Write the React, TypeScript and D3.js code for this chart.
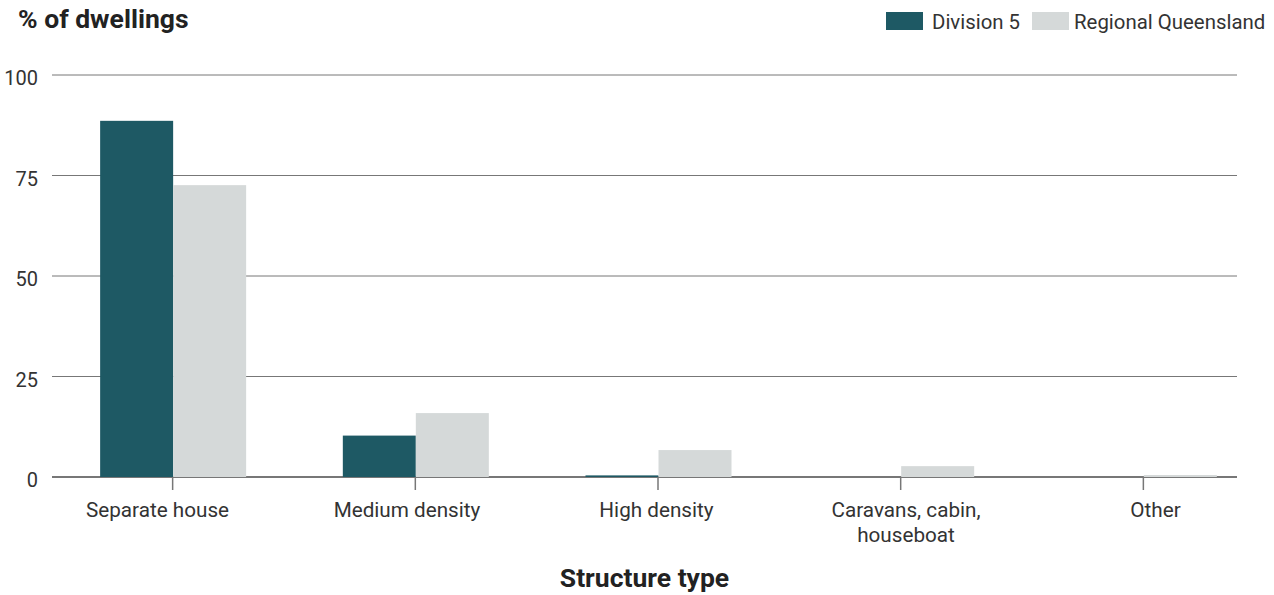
import React from "react";
import * as d3 from "d3";

const categories = ["Separate house", "Medium density", "High density", "Caravans, cabin, houseboat", "Other"];
const categoryLines = [["Separate house"], ["Medium density"], ["High density"], ["Caravans, cabin,", "houseboat"], ["Other"]];
const seriesNames = ["Division 5", "Regional Queensland"];
const division5 = [88.6, 10.3, 0.4, 0, 0];
const regionalQld = [72.6, 15.9, 6.7, 2.7, 0.5];
const yTicks = [0, 25, 50, 75, 100];
const colors = ["#1e5964", "#d5d9d9"];

const W = 1274, H = 595;
const FONT = "Roboto, 'Noto Sans', sans-serif";

export default function App() {
  const y = d3.scaleLinear().domain([0, 100]).range([477, 75]);
  const x = d3.scaleBand<string>().domain(categories).range([51.8, 1265.2]).padding(0);
  // label positions are laid out on a slightly wider band in the reference
  const xl = d3.scaleBand<string>().domain(categories).range([32.75, 1280.25]).padding(0);
  const sub = d3.scaleBand<string>().domain(seriesNames).range([0, 146]).padding(0);
  const gridL = 52, gridR = 1237;
  const data = [division5, regionalQld];
  return (
    <svg width={W} height={H} style={{ position: "absolute", left: 0, top: 0, background: "#fff" }} fontFamily={FONT}>
      <text x={18} y={28} fontSize={26.5} fontWeight={700} fill="#222">% of dwellings</text>
      {/* legend */}
      <rect x={886} y={12} width={37} height={18} fill={colors[0]} />
      <text x={932} y={29} fontSize={20.4} fill="#333">Division 5</text>
      <rect x={1032} y={12} width={37} height={18} fill={colors[1]} />
      <text x={1074} y={29} fontSize={20.4} fill="#333">Regional Queensland</text>
      {yTicks.map((t) => (
        <g key={t}>
          <line x1={gridL} x2={gridR} y1={y(t)} y2={y(t)} stroke="#777" strokeWidth={t === 0 ? 2 : 1} />
          <text x={38} y={y(t) + 10} fontSize={20} textAnchor="end" fill="#333">{t}</text>
        </g>
      ))}
      {categories.map((c, i) => {
        const cx = x(c)! + x.bandwidth() / 2;
        const lx = xl(c)! + xl.bandwidth() / 2;
        return (
          <g key={c}>
            {seriesNames.map((s, j) => {
              const v = data[j][i];
              if (v <= 0) return null;
              const x0 = cx - 73 + sub(s)!;
              return <rect key={s} x={x0} y={y(v)} width={sub.bandwidth()} height={y(0) - y(v)} fill={colors[j]} />;
            })}
            <line x1={cx - 0.5} x2={cx - 0.5} y1={477} y2={490} stroke="#777" strokeWidth={1.5} />
            {categoryLines[i].map((l, k) => (
              <text key={k} x={lx} y={517 + k * 25} fontSize={20.7} textAnchor="middle" fill="#333">{l}</text>
            ))}
          </g>
        );
      })}
      <text x={(gridL + gridR) / 2} y={587} fontSize={26.5} fontWeight={700} textAnchor="middle" fill="#222">Structure type</text>
    </svg>
  );
}
